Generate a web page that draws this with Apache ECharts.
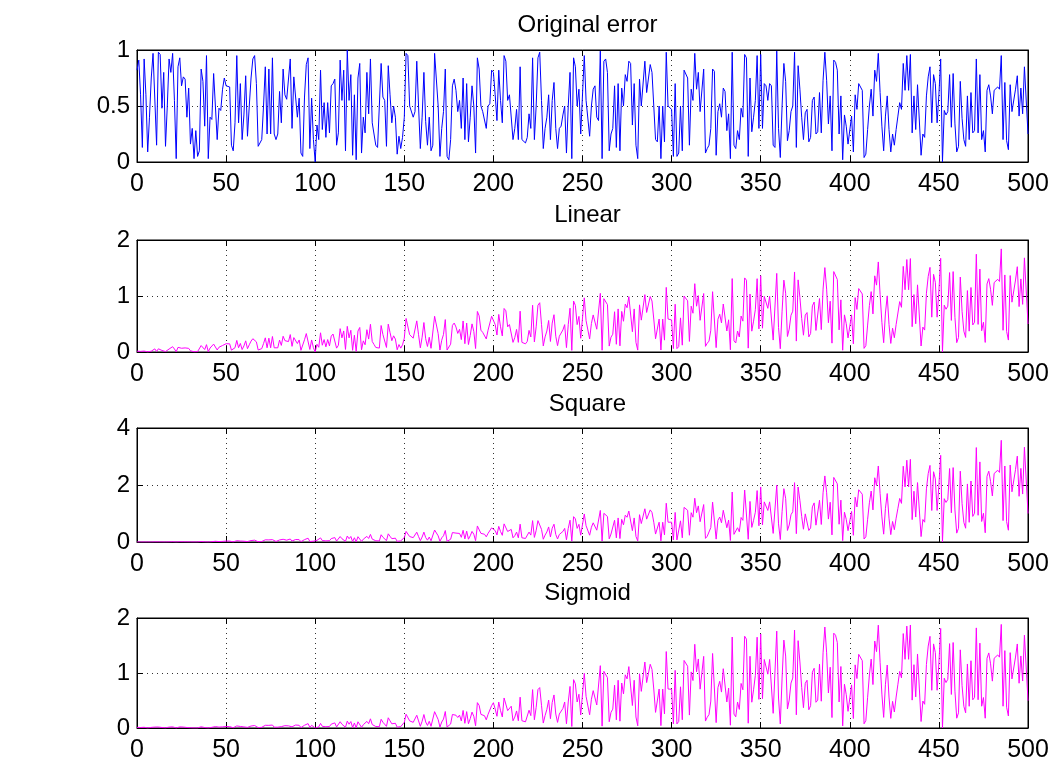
<!DOCTYPE html>
<html>
<head>
<meta charset="utf-8">
<script src="https://cdn.jsdelivr.net/npm/echarts@6/dist/echarts.min.js"></script>
<style>
html,body{margin:0;padding:0;background:#fff;}
#chart{width:1052px;height:763px;}
</style>
</head>
<body>
<div id="chart"></div>
<script>
// ---- data ----
const panelTitles = ['Original error', 'Linear', 'Square', 'Sigmoid'];
const xTicks = [0, 50, 100, 150, 200, 250, 300, 350, 400, 450, 500];
const yMaxes = [1, 2, 4, 2];
const yIntervals = [0.5, 1, 2, 1];

const originalError = [
.82,.91,.6,.13,.92,.6,.09,.4,.75,.97,
.97,.15,.98,.96,.48,.8,.14,.5,.92,.8,
.97,.55,.03,.85,.93,.68,.76,.74,.4,.66,
.16,.3,.03,.28,.05,.1,.83,.72,.32,.95,
.03,.4,.38,.79,.8,.2,.48,.46,.65,.75,
.68,.68,.67,.15,.1,.35,.95,.35,.7,.2,
.42,.77,.23,.5,.75,.92,.95,.7,.14,.14,
.2,.5,.85,.25,.83,.25,.93,.25,.2,.25,
.63,.35,.83,.6,.56,.55,.92,.3,.76,.76,
.4,.57,.08,.05,.58,.87,.93,.12,.57,.2,
0,.33,.2,.82,.29,.53,.22,.53,.26,.68,
.7,.74,.15,.26,.91,.55,.82,.1,1,.55,
.78,.06,.6,.02,.75,.88,.08,.4,.26,.8,
.43,.92,.35,.25,.15,.13,.13,.88,.58,.55,
.14,.86,.6,.35,.5,.4,.07,.23,.12,.22,
.4,.97,.95,.5,.5,.4,.45,.9,.5,.12,
.4,.8,.36,.15,.4,.1,.15,.97,.97,.5,
.05,.3,.45,.83,.05,.02,.2,.68,.74,.64,
.45,.55,.3,.75,.2,.7,.18,.4,.68,.5,
.08,.93,.83,.5,.45,.45,.3,.5,.52,.82,
.8,.6,.37,.82,.55,.35,.95,.9,.55,.6,
.6,.2,.3,.47,.2,.85,.2,.2,.17,.22,
.43,.3,.93,.2,.5,.93,.98,.55,.12,.3,
.4,.6,.2,.55,.71,.3,.12,.3,.32,.42,
.5,.08,.5,.8,.03,.93,.85,.5,.65,.25,
.25,.95,.55,.55,.23,.5,.65,.68,.4,.37,
.99,.03,.9,.92,.8,.1,.25,.3,.68,.13,
.7,.1,.66,.5,.78,.72,.9,.88,.33,.7,
.15,.03,.74,.5,.5,.9,.62,.62,.87,.8,
.5,.2,.18,.5,.03,.5,.18,.98,.5,.5,
.47,.05,.7,.05,.08,.5,.1,.82,.82,.75,
.15,.65,.55,.97,.65,.8,.45,.44,.83,.08,
.12,.15,.3,.83,.81,.06,.45,.52,.4,.66,
.63,.28,.43,.03,.98,.15,.12,.28,.2,.48,
.4,.96,.93,.05,.75,.27,.4,.55,.95,.3,
.96,.3,.7,.68,.55,.7,.68,.15,.13,.99,
.3,.04,.5,.88,.72,.19,.28,.45,.5,.98,
.13,.86,.65,.4,.2,.44,.47,.18,.22,.55,
.58,.25,.27,.62,.26,.73,.98,.73,.34,.59,
.1,.91,.89,.82,.25,.59,.02,.42,.32,.16,
.15,.41,.09,.6,.47,.7,.7,.64,.04,.07,
.29,.5,.65,.41,.82,.72,.97,.62,.32,.1,
.41,.59,.29,.09,.25,.15,.29,.41,.53,.47,
.88,.64,.95,.64,.96,.26,.59,.29,.69,.7,
.06,.25,.22,.59,.76,.85,.35,.78,.7,.35,
.6,.92,0,.46,.42,.45,.78,.31,.79,.34,
.09,.14,.72,.39,.2,.14,.59,.2,.62,.26,
.28,.92,.26,.78,.2,.28,.09,.64,.69,.59,
.43,.64,.65,.67,.65,.95,.2,.71,.19,.11,
.69,.45,.46,.65,.77,.41,.66,.43,.85,.84,
.25];

const linearError = [
.015,.016,.011,.002,.017,.011,.002,.007,.014,.017,
.056,.009,.057,.056,.028,.046,.008,.029,.053,.046,
.095,.054,.003,.083,.091,.067,.074,.073,.039,.065,
.022,.041,.004,.039,.007,.014,.115,.099,.044,.131,
.005,.071,.068,.141,.142,.036,.085,.082,.116,.134,
.148,.148,.146,.033,.022,.076,.207,.076,.153,.044,
.108,.199,.059,.129,.194,.237,.245,.181,.036,.036,
.06,.149,.253,.075,.247,.075,.277,.075,.06,.075,
.213,.118,.281,.203,.189,.186,.311,.101,.257,.257,
.151,.215,.03,.019,.219,.329,.352,.045,.215,.076,
0,.138,.084,.343,.121,.222,.092,.222,.109,.284,
.321,.339,.069,.119,.417,.252,.376,.046,.458,.252,
.388,.03,.299,.01,.374,.438,.04,.199,.129,.398,
.231,.495,.188,.135,.081,.07,.07,.473,.312,.296,
.081,.497,.347,.202,.289,.231,.04,.133,.069,.127,
.247,.599,.587,.309,.309,.247,.278,.556,.309,.074,
.263,.526,.237,.099,.263,.066,.099,.638,.638,.329,
.035,.209,.314,.579,.035,.014,.14,.475,.517,.447,
.332,.406,.221,.554,.148,.517,.133,.295,.502,.369,
.062,.724,.646,.389,.35,.35,.233,.389,.405,.638,
.654,.491,.303,.671,.45,.286,.777,.736,.45,.491,
.515,.172,.257,.403,.172,.729,.172,.172,.146,.189,
.386,.269,.835,.18,.449,.835,.88,.494,.108,.269,
.375,.563,.188,.516,.666,.281,.113,.281,.3,.394,
.489,.078,.489,.782,.029,.91,.831,.489,.636,.245,
.255,.967,.56,.56,.234,.509,.662,.692,.407,.377,
1.047,.032,.952,.973,.846,.106,.265,.317,.719,.138,
.769,.11,.725,.549,.856,.791,.988,.966,.362,.769,
.171,.034,.842,.569,.569,1.024,.706,.706,.99,.91,
.589,.236,.212,.589,.035,.589,.212,1.154,.589,.589,
.572,.061,.853,.061,.097,.609,.122,.999,.999,.914,
.189,.818,.692,1.22,.818,1.006,.566,.554,1.044,.101,
.156,.195,.389,1.077,1.051,.078,.584,.675,.519,.857,
.843,.375,.575,.04,1.311,.201,.161,.375,.268,.642,
.551,1.323,1.282,.069,1.034,.372,.551,.758,1.309,.413,
1.361,.425,.993,.964,.78,.993,.964,.213,.184,1.404,
.437,.058,.729,1.283,1.05,.277,.408,.656,.729,1.429,
.195,1.288,.974,.599,.3,.659,.704,.27,.33,.824,
.892,.385,.415,.954,.4,1.123,1.507,1.123,.523,.907,
.158,1.436,1.404,1.294,.395,.931,.032,.663,.505,.252,
.243,.663,.146,.971,.76,1.133,1.133,1.036,.065,.113,
.481,.829,1.078,.68,1.36,1.194,1.608,1.028,.531,.166,
.696,1.002,.492,.153,.425,.255,.492,.696,.9,.798,
1.529,1.112,1.651,1.112,1.668,.452,1.025,.504,1.199,1.217,
.107,.445,.391,1.049,1.351,1.511,.622,1.387,1.245,.622,
1.091,1.673,0,.836,.764,.818,1.418,.564,1.436,.618,
.167,.26,1.338,.725,.372,.26,1.096,.372,1.152,.483,
.531,1.746,.493,1.48,.38,.531,.171,1.215,1.31,1.12,
.833,1.24,1.26,1.298,1.26,1.841,.388,1.376,.368,.213,
1.365,.89,.91,1.286,1.523,.811,1.305,.851,1.681,1.662,
.5];

const squareError = [
0,0,0,0,0,0,0,0,0,0,
.003,.001,.003,.003,.002,.003,0,.002,.003,.003,
.009,.005,0,.008,.009,.007,.007,.007,.004,.006,
.003,.006,.001,.005,.001,.002,.016,.014,.006,.018,
.001,.013,.012,.025,.026,.006,.015,.015,.021,.024,
.033,.033,.032,.007,.005,.017,.046,.017,.034,.01,
.028,.052,.015,.034,.05,.062,.064,.047,.009,.009,
.018,.045,.076,.022,.074,.022,.083,.022,.018,.022,
.072,.04,.095,.068,.064,.063,.105,.034,.087,.087,
.057,.082,.011,.007,.083,.124,.133,.017,.082,.029,
0,.058,.035,.144,.051,.093,.039,.093,.046,.119,
.147,.155,.032,.055,.191,.116,.172,.021,.21,.116,
.193,.015,.149,.005,.186,.218,.02,.099,.064,.198,
.124,.266,.101,.072,.043,.038,.038,.254,.168,.159,
.047,.287,.2,.117,.167,.134,.023,.077,.04,.073,
.153,.371,.363,.191,.191,.153,.172,.344,.191,.046,
.173,.346,.156,.065,.173,.043,.065,.42,.42,.217,
.024,.146,.219,.404,.024,.01,.097,.331,.36,.312,
.245,.3,.164,.409,.109,.382,.098,.218,.371,.273,
.048,.563,.502,.303,.272,.272,.182,.303,.315,.496,
.535,.401,.248,.549,.368,.234,.636,.602,.368,.401,
.442,.147,.221,.346,.147,.626,.147,.147,.125,.162,
.347,.242,.75,.161,.403,.75,.79,.443,.097,.242,
.352,.528,.176,.484,.625,.264,.106,.264,.282,.37,
.478,.076,.478,.765,.029,.889,.813,.478,.621,.239,
.259,.984,.57,.57,.238,.518,.673,.704,.414,.383,
1.108,.034,1.007,1.029,.895,.112,.28,.336,.761,.145,
.844,.121,.796,.603,.941,.868,1.085,1.061,.398,.844,
.194,.039,.958,.648,.648,1.166,.803,.803,1.127,1.036,
.694,.278,.25,.694,.042,.694,.25,1.36,.694,.694,
.697,.074,1.038,.074,.119,.742,.148,1.216,1.216,1.112,
.237,1.029,.871,1.536,1.029,1.266,.712,.697,1.314,.127,
.202,.253,.506,1.399,1.365,.101,.758,.876,.674,1.112,
1.128,.501,.77,.054,1.754,.269,.215,.501,.358,.859,
.76,1.823,1.766,.095,1.424,.513,.76,1.044,1.804,.57,
1.931,.603,1.408,1.367,1.106,1.408,1.367,.302,.261,1.991,
.638,.085,1.063,1.871,1.531,.404,.595,.957,1.063,2.083,
.292,1.93,1.459,.898,.449,.987,1.055,.404,.494,1.234,
1.372,.591,.639,1.466,.615,1.726,2.318,1.726,.804,1.395,
.249,2.266,2.216,2.042,.623,1.469,.05,1.046,.797,.398,
.393,1.073,.236,1.571,1.23,1.833,1.833,1.676,.105,.183,
.797,1.375,1.787,1.127,2.254,1.979,2.667,1.704,.88,.275,
1.182,1.701,.836,.259,.721,.432,.836,1.182,1.528,1.355,
2.658,1.933,2.87,1.933,2.9,.785,1.782,.876,2.084,2.115,
.19,.79,.695,1.865,2.402,2.687,1.106,2.466,2.213,1.106,
1.983,3.041,0,1.52,1.388,1.487,2.578,1.025,2.611,1.124,
.311,.483,2.485,1.346,.69,.483,2.037,.69,2.14,.898,
1.009,3.314,.937,2.81,.72,1.009,.324,2.305,2.485,2.125,
1.615,2.404,2.441,2.517,2.441,3.568,.751,2.667,.714,.413,
2.7,1.761,1.8,2.543,3.013,1.604,2.583,1.683,3.326,3.287,
1.0];

const sigmoidError = [
.012,.013,.009,.002,.013,.009,.001,.006,.011,.014,
.017,.003,.018,.017,.009,.014,.003,.009,.016,.014,
.021,.012,.001,.019,.02,.015,.017,.016,.009,.014,
.004,.008,.001,.007,.001,.003,.022,.019,.008,.025,
.001,.013,.012,.026,.026,.006,.016,.015,.021,.024,
.027,.027,.026,.006,.004,.014,.037,.014,.028,.008,
.02,.037,.011,.024,.036,.044,.045,.033,.007,.007,
.012,.029,.049,.015,.048,.015,.054,.015,.012,.015,
.044,.025,.058,.042,.039,.039,.065,.021,.054,.054,
.034,.049,.007,.004,.05,.074,.08,.01,.049,.017,
0,.034,.021,.084,.03,.055,.023,.055,.027,.07,
.088,.093,.019,.033,.114,.069,.103,.013,.125,.069,
.117,.009,.09,.003,.113,.132,.012,.06,.039,.12,
.078,.167,.063,.045,.027,.024,.024,.159,.105,.1,
.03,.186,.13,.076,.108,.086,.015,.05,.026,.048,
.103,.25,.245,.129,.129,.103,.116,.232,.129,.031,
.122,.245,.11,.046,.122,.031,.046,.297,.297,.153,
.018,.109,.163,.3,.018,.007,.072,.246,.268,.232,
.191,.234,.128,.319,.085,.298,.077,.17,.289,.213,
.04,.461,.412,.248,.223,.223,.149,.248,.258,.407,
.46,.345,.213,.472,.316,.201,.546,.518,.316,.345,
.396,.132,.198,.31,.132,.561,.132,.132,.112,.145,
.323,.225,.698,.15,.375,.698,.735,.413,.09,.225,
.338,.508,.169,.465,.601,.254,.102,.254,.271,.355,
.473,.076,.473,.756,.028,.879,.803,.473,.614,.236,
.261,.993,.575,.575,.24,.523,.679,.711,.418,.387,
1.133,.034,1.03,1.052,.915,.114,.286,.343,.778,.149,
.868,.124,.818,.62,.967,.893,1.116,1.091,.409,.868,
.2,.04,.986,.666,.666,1.199,.826,.826,1.159,1.066,
.709,.284,.255,.709,.043,.709,.255,1.39,.709,.709,
.704,.075,1.048,.075,.12,.749,.15,1.228,1.228,1.123,
.235,1.02,.863,1.522,1.02,1.255,.706,.69,1.302,.126,
.196,.245,.49,1.355,1.323,.098,.735,.849,.653,1.078,
1.063,.473,.726,.051,1.654,.253,.203,.473,.338,.81,
.695,1.668,1.616,.087,1.304,.469,.695,.956,1.651,.521,
1.709,.534,1.246,1.21,.979,1.246,1.21,.267,.231,1.762,
.545,.073,.908,1.598,1.308,.345,.508,.817,.908,1.78,
.24,1.588,1.201,.739,.369,.813,.868,.332,.406,1.016,
1.086,.468,.506,1.161,.487,1.367,1.836,1.367,.637,1.105,
.19,1.724,1.687,1.554,.474,1.118,.038,.796,.606,.303,
.287,.784,.172,1.148,.899,1.339,1.339,1.224,.077,.134,
.559,.964,1.253,.79,1.581,1.388,1.87,1.195,.617,.193,
.796,1.145,.563,.175,.485,.291,.563,.796,1.029,.912,
1.717,1.249,1.853,1.249,1.873,.507,1.151,.566,1.346,1.366,
.118,.49,.431,1.156,1.49,1.666,.686,1.529,1.372,.686,
1.18,1.81,0,.905,.826,.885,1.534,.61,1.554,.669,
.178,.276,1.421,.769,.395,.276,1.164,.395,1.223,.513,
.554,1.82,.514,1.543,.396,.554,.178,1.266,1.365,1.167,
.852,1.268,1.288,1.328,1.288,1.883,.396,1.407,.377,.218,
1.37,.893,.913,1.29,1.528,.814,1.31,.854,1.687,1.667,
.497];

const seriesValues = [originalError, linearError, squareError, sigmoidError];
const seriesColors = ['#0000ff', '#ff00ff', '#ff00ff', '#ff00ff'];

// ---- layout ----
const FONT = 'Liberation Sans, Arial, Helvetica, sans-serif';
const gridTops = [50, 240, 428, 618];
const gridHeights = [112, 112, 114, 112];
const titleTops = [8, 198, 387, 576];
const plotLeft = 137, plotRight = 24;
const plotCenter = 137 + (1052 - 137 - 24) / 2;

const grids = [], xAxes = [], yAxes = [], series = [], titles = [];
for (let i = 0; i < 4; i++) {
  grids.push({left: plotLeft, right: plotRight, top: gridTops[i], height: gridHeights[i],
    show: true, borderColor: '#000', borderWidth: 1, backgroundColor: 'transparent'});
  const xBase = {type: 'value', gridIndex: i, min: xTicks[0], max: xTicks[xTicks.length - 1],
    interval: xTicks[1] - xTicks[0],
    axisLine: {show: true, onZero: false, lineStyle: {color: '#000', width: 1}},
    axisTick: {show: true, inside: true, length: 6, lineStyle: {color: '#000'}}};
  xAxes.push(Object.assign({}, xBase, {position: 'bottom',
    axisLabel: {show: true, color: '#000', fontSize: 25, fontFamily: FONT, margin: 10},
    splitLine: {show: true, lineStyle: {color: '#333', width: 1, type: [1, 4]}}}));
  xAxes.push(Object.assign({}, xBase, {position: 'top', axisLabel: {show: false}, splitLine: {show: false}}));
  const yBase = {type: 'value', gridIndex: i, min: 0, max: yMaxes[i], interval: yIntervals[i],
    axisLine: {show: true, onZero: false, lineStyle: {color: '#000', width: 1}},
    axisTick: {show: true, inside: true, length: 6, lineStyle: {color: '#000'}}};
  yAxes.push(Object.assign({}, yBase, {position: 'left',
    axisLabel: {show: true, color: '#000', fontSize: 24, fontFamily: FONT, margin: 7},
    splitLine: {show: true, lineStyle: {color: '#333', width: 1, type: [1, 4]}}}));
  yAxes.push(Object.assign({}, yBase, {position: 'right', axisLabel: {show: false}, splitLine: {show: false}}));
  series.push({type: 'line', xAxisIndex: 2 * i, yAxisIndex: 2 * i,
    data: seriesValues[i].map((v, k) => [k, v]),
    showSymbol: false, symbol: 'none', clip: true,
    lineStyle: {color: seriesColors[i], width: 1}, itemStyle: {color: seriesColors[i]},
    animation: false});
  titles.push({text: panelTitles[i], left: plotCenter, top: titleTops[i], textAlign: 'center',
    textStyle: {fontFamily: FONT, fontSize: 24, fontWeight: 'normal', color: '#000'}});
}

const chart = echarts.init(document.getElementById('chart'), null, {renderer: 'canvas'});
chart.setOption({
  animation: false,
  backgroundColor: '#fff',
  title: titles,
  grid: grids,
  xAxis: xAxes,
  yAxis: yAxes,
  series: series
});
</script>
</body>
</html>
